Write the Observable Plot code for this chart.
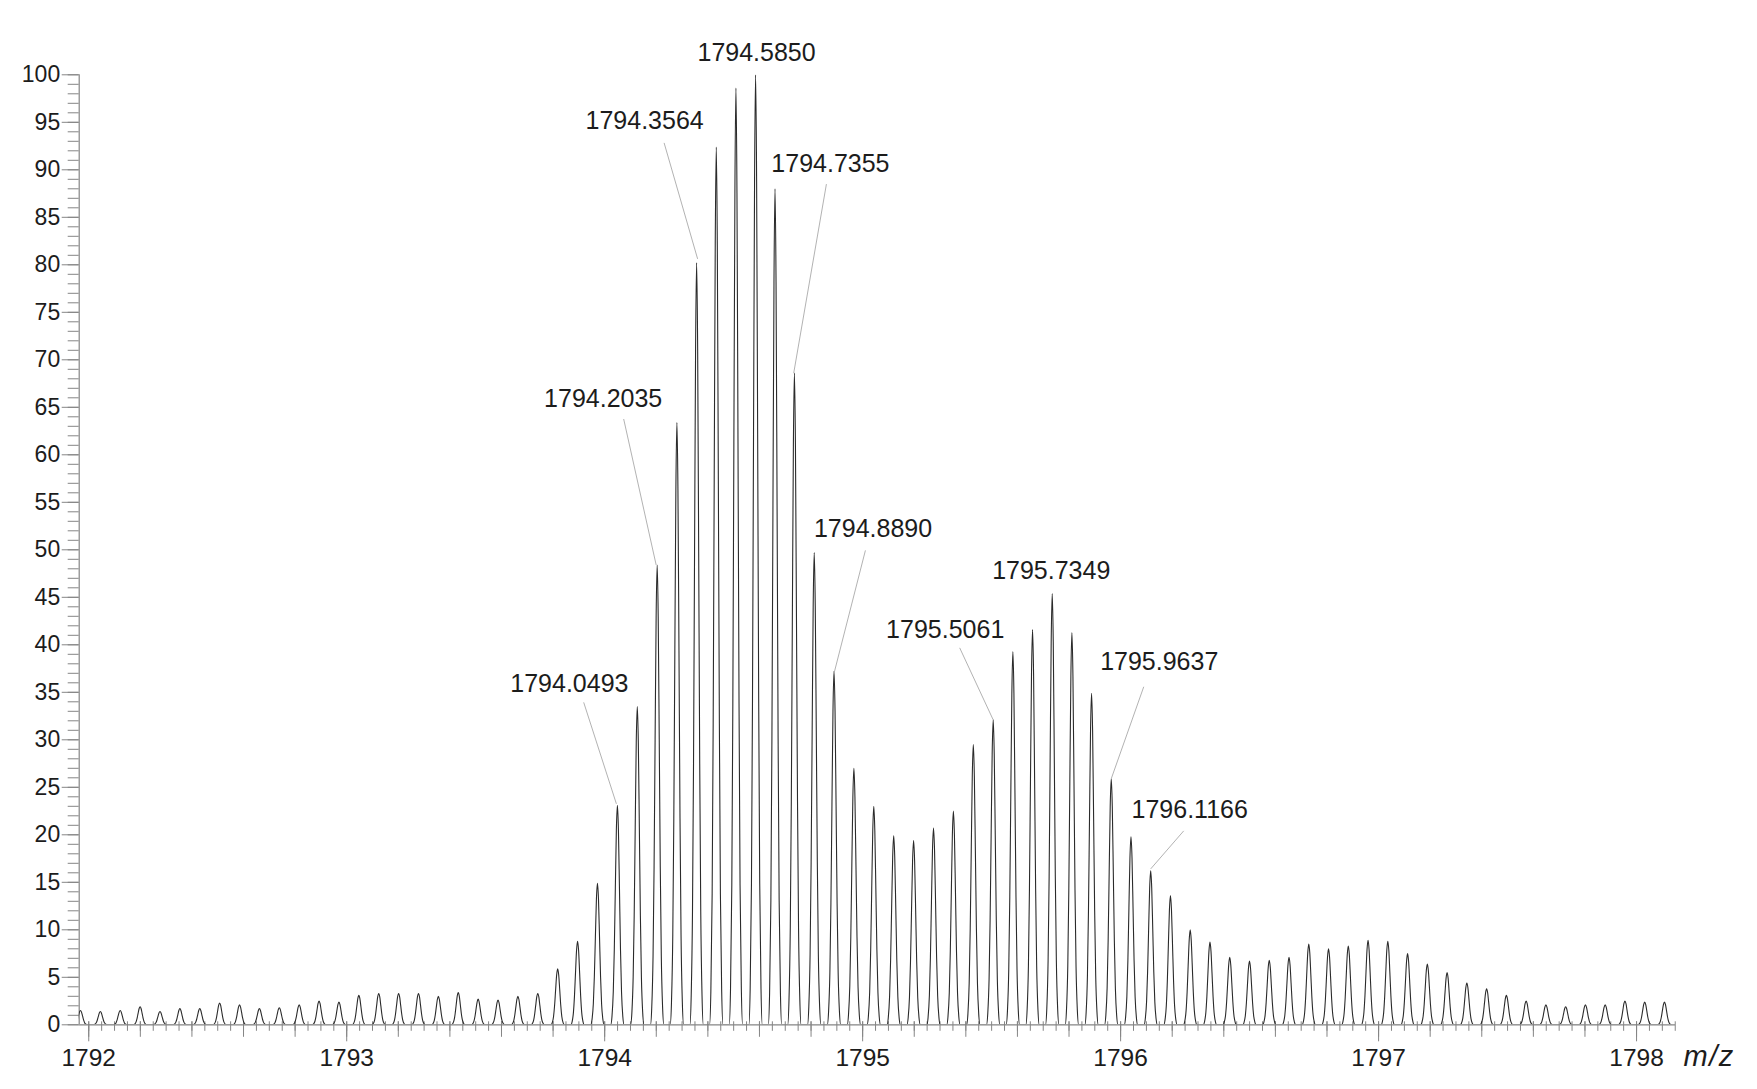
<!DOCTYPE html>
<html><head><meta charset="utf-8">
<script src="https://cdn.jsdelivr.net/npm/d3@7"></script>
<script src="https://cdn.jsdelivr.net/npm/@observablehq/plot@0.6"></script>
<style>html,body{margin:0;padding:0;background:#fff;} #chart svg{display:block;}</style>
</head><body><div id="chart"></div>
<script>
// ---- data ----
const peakMz = [
  1791.9679, 1792.0450, 1792.1220, 1792.1991, 1792.2762, 1792.3533, 1792.4304, 1792.5074, 1792.5845,
  1792.6616, 1792.7387, 1792.8158, 1792.8928, 1792.9699, 1793.0470, 1793.1241, 1793.2012, 1793.2782,
  1793.3553, 1793.4324, 1793.5095, 1793.5866, 1793.6636, 1793.7407, 1793.8178, 1793.8949, 1793.9720,
  1794.0493, 1794.1264, 1794.2035, 1794.2800, 1794.3564, 1794.4326, 1794.5088, 1794.5850, 1794.6603,
  1794.7355, 1794.8123, 1794.8890, 1794.9661, 1795.0432, 1795.1204, 1795.1975, 1795.2747, 1795.3518,
  1795.4290, 1795.5061, 1795.5824, 1795.6586, 1795.7349, 1795.8112, 1795.8874, 1795.9637, 1796.0402,
  1796.1166, 1796.1932, 1796.2698, 1796.3464, 1796.4230, 1796.4996, 1796.5762, 1796.6528, 1796.7294,
  1796.8060, 1796.8826, 1796.9592, 1797.0358, 1797.1124, 1797.1890, 1797.2656, 1797.3422, 1797.4188,
  1797.4954, 1797.5720, 1797.6486, 1797.7252, 1797.8018, 1797.8784, 1797.9550, 1798.0316, 1798.1082
];
const peakIntensity = [
  1.5, 1.4, 1.5, 1.9, 1.4, 1.7, 1.7, 2.3, 2.1,
  1.7, 1.8, 2.1, 2.5, 2.4, 3.1, 3.3, 3.3, 3.3,
  3.0, 3.4, 2.7, 2.6, 3.0, 3.3, 5.9, 8.8, 14.9,
  23.1, 33.5, 48.4, 63.4, 80.2, 92.4, 98.6, 100.0, 88.0,
  68.6, 49.7, 37.2, 27.0, 23.0, 19.9, 19.4, 20.7, 22.5,
  29.5, 32.1, 39.3, 41.6, 45.4, 41.3, 34.9, 25.9, 19.8,
  16.2, 13.6, 10.0, 8.7, 7.1, 6.7, 6.8, 7.1, 8.5,
  8.0, 8.3, 8.9, 8.8, 7.5, 6.4, 5.5, 4.4, 3.8,
  3.1, 2.5, 2.1, 1.9, 2.1, 2.1, 2.5, 2.4, 2.4
];
const labeledPeaks = ["1794.0493", "1794.2035", "1794.3564", "1794.5850", "1794.7355",
                      "1794.8890", "1795.5061", "1795.7349", "1795.9637", "1796.1166"];
const xTickLabels = [1792, 1793, 1794, 1795, 1796, 1797, 1798];
const yTickLabels = [0, 5, 10, 15, 20, 25, 30, 35, 40, 45, 50, 55, 60, 65, 70, 75, 80, 85, 90, 95, 100];
const xAxisTitle = "m/z";

// ---- peak profile (shape of one peak, offsets in m/z, fraction of apex) ----
const peakShapeOffset   = [-0.026, -0.021, -0.016, -0.012, -0.008, -0.004, 0, 0.004, 0.008, 0.012, 0.016, 0.021, 0.026];
const peakShapeFraction = [0, 0.038, 0.149, 0.343, 0.621, 0.888, 1, 0.888, 0.621, 0.343, 0.149, 0.038, 0];

// ---- layout (pixels) ----
const W = 1757, H = 1089;
const M = {left: 78.7, right: 82, top: 74.3, bottom: 64.7};
const xDomain = [1791.963, 1798.151];
const yDomain = [0, 100];
// label offsets relative to the peak apex: text centre dx, baseline dy, leader [x1,y1,x2,y2]
const labelLayout = [
  {dx: -48, dy: -113, leader: [-33.7, -103, -1, -1.5]},
  {dx: -54, dy: -158, leader: [-33.5, -146, -1, 0]},
  {dx: -52, dy: -134, leader: [-32.5, -120, 1, -4]},
  {dx: 1,   dy: -14,  leader: null},
  {dx: 36,  dy: -201, leader: [32, -189, -0.7, 0]},
  {dx: 39,  dy: -134, leader: [31.4, -121, 0, 2]},
  {dx: -48, dy: -82,  leader: [-33.5, -72, 0, 0]},
  {dx: -1,  dy: -15,  leader: null},
  {dx: 48,  dy: -109, leader: [32.5, -92, 0, 0]},
  {dx: 39,  dy: -53,  leader: [33, -40, 0, -2]}
];

// ---- build ----
const kx = (W - M.left - M.right) / (xDomain[1] - xDomain[0]);
const ky = (H - M.top - M.bottom) / (yDomain[1] - yDomain[0]);

const profile = [];
peakMz.forEach((m, i) => {
  peakShapeOffset.forEach((o, j) => profile.push({mz: m + o, intensity: peakIntensity[i] * peakShapeFraction[j]}));
});

const labels = labeledPeaks.map((s, i) => {
  const idx = peakMz.findIndex(m => Math.abs(m - +s) < 1e-6);
  return {label: s, mz: peakMz[idx], h: peakIntensity[idx], layout: labelLayout[i]};
});

const xMedium = d3.range(1792, 1798.1, 0.2).map(v => +v.toFixed(2));
const xMinor = d3.range(1792, 1798.16, 0.05).map(v => +v.toFixed(2));
const yMinor = d3.range(0, 101, 1);

const axisGray = "#858585";
const textColor = "#1c1c1c";

const marks = [
  // axis lines
  Plot.ruleX([xDomain[0]], {y1: 0, y2: 100, stroke: axisGray, strokeWidth: 1.2}),
  // y ticks
  Plot.axisY(yMinor, {anchor: "left", tickSize: 11, fill: "none", stroke: axisGray, label: null}),
  Plot.axisY(yTickLabels, {anchor: "left", tickSize: 17, tickPadding: 2, fontSize: 23, stroke: axisGray, fill: textColor, label: null, tickFormat: d => String(d)}),
  // x ticks
  Plot.axisX(xMinor, {anchor: "bottom", tickSize: 9.5, dy: -3, fill: "none", stroke: axisGray, label: null}),
  Plot.axisX(xMedium, {anchor: "bottom", tickSize: 15.5, dy: -3, fill: "none", stroke: axisGray, label: null}),
  Plot.axisX(xTickLabels, {anchor: "bottom", tickSize: 17, tickPadding: 7, fontSize: 24.5, stroke: axisGray, fill: textColor, label: null, tickFormat: d => String(d)}),
  // spectrum
  Plot.line(profile, {x: "mz", y: "intensity", curve: "monotone-x", stroke: "#2b2b2b", strokeWidth: 1.1, clip: true}),
  Plot.ruleY([0], {x1: xDomain[0], x2: xDomain[1], stroke: axisGray, strokeWidth: 1.2}),
  // axis title
  Plot.text([xAxisTitle], {x: xDomain[1], y: 0, text: d => d, dx: 8, dy: 31.5, fontSize: 29, fontStyle: "italic", fill: textColor, textAnchor: "start"})
];

labels.forEach(d => {
  const L = d.layout;
  if (L.leader) {
    const [sx, sy, ex, ey] = L.leader;
    marks.push(Plot.link([d], {
      x1: p => p.mz + sx / kx, y1: p => p.h - sy / ky,
      x2: p => p.mz + ex / kx, y2: p => p.h - ey / ky,
      stroke: "#a9a9a9", strokeWidth: 0.9
    }));
  }
  marks.push(Plot.text([d], {x: "mz", y: "h", text: "label", dx: L.dx, dy: L.dy - 8, fontSize: 25, fill: textColor, textAnchor: "middle"}));
});

const chart = Plot.plot({
  width: W, height: H,
  marginLeft: M.left, marginRight: M.right, marginTop: M.top, marginBottom: M.bottom,
  x: {domain: xDomain},
  y: {domain: yDomain},
  style: {fontFamily: "'Liberation Sans', Arial, Helvetica, sans-serif", background: "#fff", color: textColor},
  marks
});
d3.select(chart).selectAll("text").filter(function() { return this.textContent === xAxisTitle; })
  .style("letter-spacing", "1.5px");
document.getElementById("chart").appendChild(chart);
</script>
</body></html>
